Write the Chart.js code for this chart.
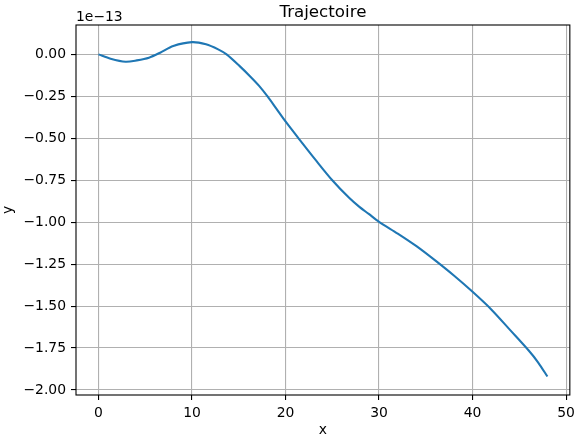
<!DOCTYPE html>
<html>
<head>
<meta charset="utf-8">
<script src="https://cdn.jsdelivr.net/npm/chart.js@4/dist/chart.umd.min.js"></script>
<style>
  html, body { margin: 0; padding: 0; background: #fff; }
  canvas { display: block; }
</style>
</head>
<body>
<canvas id="c" width="580" height="442"></canvas>
<script>
// Data (y values in units of 1e-13)
const xValues = [0, 1.3, 2.9, 4.1, 5.4, 6.6, 8.0, 10.0, 11.5, 12.8, 13.7, 15.1, 16.2, 17.2, 18.1, 19.0, 20.0, 21.5, 23.3, 25.0, 26.8, 27.9, 28.9, 30.0, 32.0, 34.0, 36.0, 38.0, 40.0, 42.0, 44.0, 46.0, 47.0, 48.0];
const yValues = [0, -0.026, -0.044, -0.036, -0.02, 0.01, 0.05, 0.073, 0.06, 0.03, 0, -0.07, -0.13, -0.189, -0.252, -0.322, -0.40, -0.508, -0.635, -0.75, -0.855, -0.909, -0.951, -0.998, -1.068, -1.143, -1.228, -1.318, -1.415, -1.52, -1.642, -1.765, -1.835, -1.92];
const yExponent = -13;
const xTicks = [0, 10, 20, 30, 40, 50];
const yTicks = [0, -0.25, -0.5, -0.75, -1.0, -1.25, -1.5, -1.75, -2.0];
const titleText = 'Trajectoire';
const xLabel = 'x';
const yLabel = 'y';
const offsetText = '1e\u221213';

const yScaleFactor = Math.pow(10, yExponent);
const points = xValues.map((x, i) => ({ x: x, y: yValues[i] * yScaleFactor }));

const FONT = 'DejaVu Sans';
const fmt = v => {
  let s = (v / yScaleFactor).toFixed(2);
  if (s === '-0.00') s = '0.00';
  return s.startsWith('-') ? '\u2212' + s.slice(1) : s;
};

const decor = {
  id: 'decor',
  afterDraw(chart) {
    const { ctx, chartArea: a } = chart;
    ctx.save();
    ctx.strokeStyle = '#000';
    ctx.lineWidth = 1.1;
    ctx.strokeRect(a.left, a.top, a.right - a.left, a.bottom - a.top);
    ctx.fillStyle = '#000';
    ctx.font = '16.7px "' + FONT + '"';
    ctx.textAlign = 'center';
    ctx.textBaseline = 'alphabetic';
    ctx.fillText(titleText, (a.left + a.right) / 2, 17);
    ctx.font = '13.9px "' + FONT + '"';
    ctx.textAlign = 'left';
    ctx.fillText(offsetText, a.left, 21);
    ctx.textAlign = 'center';
    ctx.fillText(xLabel, (a.left + a.right) / 2, 434);
    ctx.save();
    ctx.translate(16, (a.top + a.bottom) / 2);
    ctx.rotate(-Math.PI / 2);
    ctx.textAlign = 'center';
    ctx.textBaseline = 'alphabetic';
    ctx.fillText(yLabel, 0, -4);
    ctx.restore();
    ctx.restore();
  }
};

new Chart(document.getElementById('c'), {
  type: 'line',
  data: {
    datasets: [{
      data: points,
      borderColor: '#1f77b4',
      borderWidth: 2.1,
      pointRadius: 0,
      tension: 0.3,
      fill: false
    }]
  },
  options: {
    responsive: false,
    animation: false,
    devicePixelRatio: 1,
    layout: { padding: { top: 25, right: 8, left: 0, bottom: 0 } },
    plugins: { legend: { display: false }, tooltip: { enabled: false }, title: { display: false } },
    scales: {
      x: {
        type: 'linear',
        min: -2.4,
        max: 50.4,
        afterBuildTicks: s => { s.ticks = xTicks.map(v => ({ value: v })); },
        afterFit: s => { s.height = 47; },
        ticks: {
          font: { family: FONT, size: 13.9 },
          color: '#000',
          padding: 5,
          maxRotation: 0,
          callback: v => String(v)
        },
        grid: { color: '#b0b0b0', lineWidth: 1.1, tickLength: 5, tickColor: '#000', tickWidth: 1.1 },
        border: { display: false }
      },
      y: {
        type: 'linear',
        min: -2.03 * yScaleFactor,
        max: 0.175 * yScaleFactor,
        afterBuildTicks: s => { s.ticks = yTicks.map(v => ({ value: v * yScaleFactor })); },
        afterFit: s => { s.width = 76; },
        ticks: {
          font: { family: FONT, size: 13.9 },
          color: '#000',
          padding: 5,
          callback: v => fmt(v)
        },
        grid: { color: '#b0b0b0', lineWidth: 1.1, tickLength: 5, tickColor: '#000', tickWidth: 1.1 },
        border: { display: false }
      }
    }
  },
  plugins: [decor]
});
</script>
</body>
</html>
